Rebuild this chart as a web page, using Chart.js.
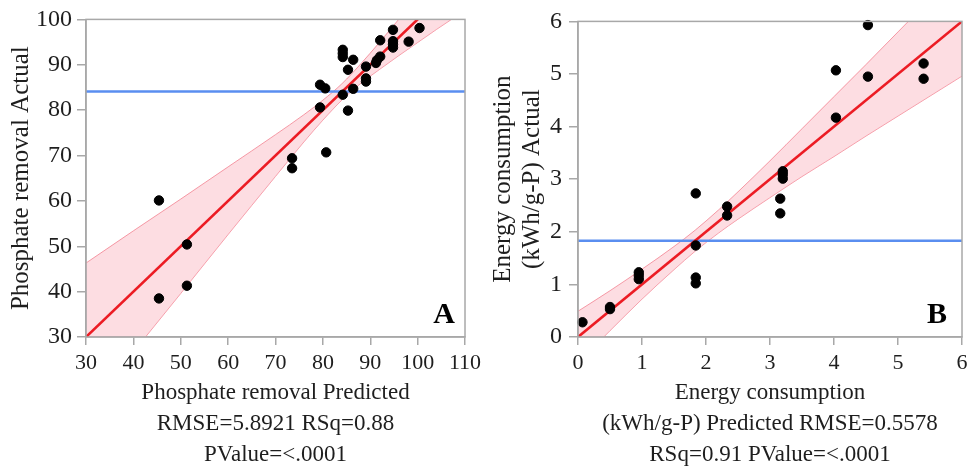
<!DOCTYPE html>
<html>
<head>
<meta charset="utf-8">
<script src="https://cdn.jsdelivr.net/npm/chart.js@4.4.1/dist/chart.umd.min.js"></script>
<style>
  html, body { margin: 0; padding: 0; background: #fff; }
  #wrap { position: relative; width: 974px; height: 471px; overflow: hidden; }
  .box { position: absolute; top: 0; width: 487px; height: 471px; }
</style>
</head>
<body>
<div id="wrap">
  <div class="box" style="left:0"><canvas id="chartA" width="487" height="471"></canvas></div>
  <div class="box" style="left:487px"><canvas id="chartB" width="487" height="471"></canvas></div>
</div>
<script>
// ---------- Panel A: Phosphate removal ----------
const aPredicted = [45.4, 45.4, 51.3, 51.3, 73.5, 73.5, 80.7, 79.4, 79.4, 80.5, 84.2, 84.2, 84.2, 84.2, 85.3, 85.3, 86.4, 86.4, 89.1, 89.1, 89.1, 91.2, 91.4, 92.1, 92.1, 94.8, 94.8, 94.8, 94.8, 98.1, 100.4];
const aActual    = [60.1, 38.5, 50.4, 41.3, 69.4, 67.2, 70.7, 80.6, 85.6, 84.8, 83.4, 93.3, 92.5, 91.7, 88.9, 79.9, 91.1, 84.7, 89.6, 87.0, 86.3, 90.4, 91.0, 91.8, 95.4, 97.7, 95.2, 94.5, 93.8, 95.1, 98.1];
const aFitX = [30, 110];
const aFitY = [30, 110];
const aMean = 84.1;
const aBandX     = [30, 40, 50, 60, 70, 76, 80, 84, 88, 92, 96, 100, 104, 110];
const aBandUpper = [46.3, 53.4, 60.4, 67.5, 74.6, 79.0, 82.2, 85.8, 90.2, 95.0, 100.0, 105.1, 110.2, 118.0];
const aBandLower = [13.7, 26.7, 39.6, 52.6, 65.4, 73.0, 77.8, 82.2, 85.9, 89.0, 92.0, 94.9, 97.8, 102.0];
const aXTicks = [30, 40, 50, 60, 70, 80, 90, 100, 110];
const aYTicks = [30, 40, 50, 60, 70, 80, 90, 100];
const aXTitle = ["Phosphate removal Predicted", "RMSE=5.8921 RSq=0.88", "PValue=<.0001"];
const aYTitle = "Phosphate removal Actual";
const aLetter = "A";

// ---------- Panel B: Energy consumption ----------
const bPredicted = [0.07, 0.5, 0.5, 0.95, 0.95, 0.95, 1.84, 1.84, 1.84, 1.84, 2.33, 2.33, 3.16, 3.16, 3.2, 3.2, 3.2, 4.03, 4.03, 4.53, 4.53, 5.4, 5.4];
const bActual    = [0.28, 0.57, 0.53, 1.23, 1.17, 1.10, 2.73, 1.74, 1.13, 1.02, 2.48, 2.31, 2.63, 2.35, 3.15, 3.09, 3.01, 5.07, 4.17, 5.93, 4.95, 5.20, 4.91];
const bFitX = [0, 6];
const bFitY = [0, 6];
const bMean = 1.83;
const bBandX     = [0, 0.5, 1, 1.5, 1.83, 2.2, 2.5, 3, 3.5, 4, 4.5, 5, 5.5, 6];
const bBandUpper = [0.49, 0.88, 1.29, 1.72, 2.03, 2.42, 2.76, 3.35, 3.96, 4.57, 5.18, 5.80, 6.42, 7.04];
const bBandLower = [-0.49, 0.12, 0.72, 1.28, 1.63, 1.98, 2.24, 2.65, 3.05, 3.43, 3.82, 4.20, 4.58, 4.96];
const bXTicks = [0, 1, 2, 3, 4, 5, 6];
const bYTicks = [0, 1, 2, 3, 4, 5, 6];
const bXTitle = ["Energy consumption", "(kWh/g-P) Predicted RMSE=0.5578", "RSq=0.91 PValue=<.0001"];
const bYTitle = ["Energy consumption", "(kWh/g-P) Actual"];
const bLetter = "B";

// ---------- styling ----------
const FONT = "'Liberation Serif', 'Times New Roman', serif";
const AXIS_GRAY = '#a8a8a8';
const TEXT_COLOR = '#1e1e1e';

function zip(xs, ys) { return xs.map((x, i) => ({ x: x, y: ys[i] })); }

const framePlugin = {
  id: 'frame',
  afterDatasetsDraw(chart) {
    const a = chart.chartArea, ctx = chart.ctx;
    ctx.save();
    ctx.strokeStyle = AXIS_GRAY;
    ctx.lineWidth = 1.5;
    ctx.strokeRect(a.left, a.top, a.right - a.left, a.bottom - a.top);
    ctx.restore();
  },
  afterDraw(chart) {
    const o = chart.options.plugins.frame || {};
    if (!o.letter) return;
    const a = chart.chartArea, ctx = chart.ctx;
    ctx.save();
    ctx.font = "bold 30px " + FONT;
    ctx.fillStyle = '#000';
    ctx.textAlign = 'center';
    ctx.textBaseline = 'middle';
    ctx.fillText(o.letter, a.right - o.dx, a.bottom - o.dy);
    ctx.restore();
  }
};

function makeChart(id, cfg) {
  const tickVals = (vals) => function (scale) { scale.ticks = vals.map(v => ({ value: v })); };
  return new Chart(document.getElementById(id), {
    type: 'scatter',
    data: {
      datasets: [
        { data: zip(cfg.px, cfg.py), backgroundColor: '#000', borderColor: '#000', pointRadius: 4.7, pointHoverRadius: 4.7, order: 0, clip: false },
        { data: zip(cfg.fitX, cfg.fitY), showLine: true, borderColor: '#ec1c24', borderWidth: 2.6, pointRadius: 0, order: 1 },
        { data: zip([cfg.xmin, cfg.xmax], [cfg.mean, cfg.mean]), showLine: true, borderColor: '#5a8ef0', borderWidth: 2.6, pointRadius: 0, order: 2 },
        { data: zip(cfg.bandX, cfg.bandU), showLine: true, borderColor: 'rgba(243,130,145,0.8)', borderWidth: 1, pointRadius: 0, fill: '+1', backgroundColor: 'rgba(251,180,190,0.45)', cubicInterpolationMode: 'monotone', order: 3 },
        { data: zip(cfg.bandX, cfg.bandL), showLine: true, borderColor: 'rgba(243,130,145,0.8)', borderWidth: 1, pointRadius: 0, fill: false, cubicInterpolationMode: 'monotone', order: 3 }
      ]
    },
    options: {
      responsive: false,
      animation: false,
      devicePixelRatio: 1,
      events: [],
      layout: { padding: cfg.padding },
      plugins: {
        legend: { display: false },
        tooltip: { enabled: false },
        frame: { letter: cfg.letter, dx: cfg.letterDx, dy: cfg.letterDy }
      },
      scales: {
        x: {
          type: 'linear', min: cfg.xmin, max: cfg.xmax,
          afterBuildTicks: tickVals(cfg.xTicks),
          afterFit(s) { s.height = cfg.xHeight; },
          grid: { display: true, drawOnChartArea: false, drawTicks: true, tickLength: 8, color: AXIS_GRAY, lineWidth: 1.5 },
          border: { display: true, color: AXIS_GRAY, width: 1.5 },
          ticks: { font: { family: FONT, size: 22 }, color: TEXT_COLOR, padding: 5, maxRotation: 0, autoSkip: false },
          title: { display: true, text: cfg.xTitle, font: { family: FONT, size: 23, lineHeight: 1.36 }, color: TEXT_COLOR, padding: { top: 0, bottom: 0 } }
        },
        y: {
          type: 'linear', min: cfg.ymin, max: cfg.ymax,
          afterBuildTicks: tickVals(cfg.yTicks),
          afterFit(s) { s.width = cfg.yWidth; },
          grid: { display: true, drawOnChartArea: false, drawTicks: true, tickLength: 9, color: AXIS_GRAY, lineWidth: 1.5 },
          border: { display: true, color: AXIS_GRAY, width: 1.5 },
          ticks: { font: { family: FONT, size: 24 }, color: TEXT_COLOR, padding: cfg.yTickPad, autoSkip: false },
          title: { display: true, text: cfg.yTitle, font: { family: FONT, size: 25, lineHeight: 1.15 }, color: TEXT_COLOR, padding: { top: cfg.yTitlePad, bottom: 0 } }
        }
      }
    },
    plugins: [framePlugin]
  });
}

makeChart('chartA', {
  px: aPredicted, py: aActual, fitX: aFitX, fitY: aFitY, mean: aMean,
  bandX: aBandX, bandU: aBandUpper, bandL: aBandLower,
  xmin: 30, xmax: 110, ymin: 30, ymax: 100, xTicks: aXTicks, yTicks: aYTicks,
  xTitle: aXTitle, yTitle: aYTitle, letter: aLetter, letterDx: 21, letterDy: 22,
  padding: { left: 0, right: 22, top: 19, bottom: 0 }, xHeight: 134, yWidth: 86, yTickPad: 5, yTitlePad: 7
});

makeChart('chartB', {
  px: bPredicted, py: bActual, fitX: bFitX, fitY: bFitY, mean: bMean,
  bandX: bBandX, bandU: bBandUpper, bandL: bBandLower,
  xmin: 0, xmax: 6, ymin: 0, ymax: 6, xTicks: bXTicks, yTicks: bYTicks,
  xTitle: bXTitle, yTitle: bYTitle, letter: bLetter, letterDx: 25, letterDy: 22,
  padding: { left: 0, right: 12, top: 15, bottom: 0 }, xHeight: 134, yWidth: 91, yTickPad: 7, yTitlePad: 2
});
</script>
</body>
</html>
